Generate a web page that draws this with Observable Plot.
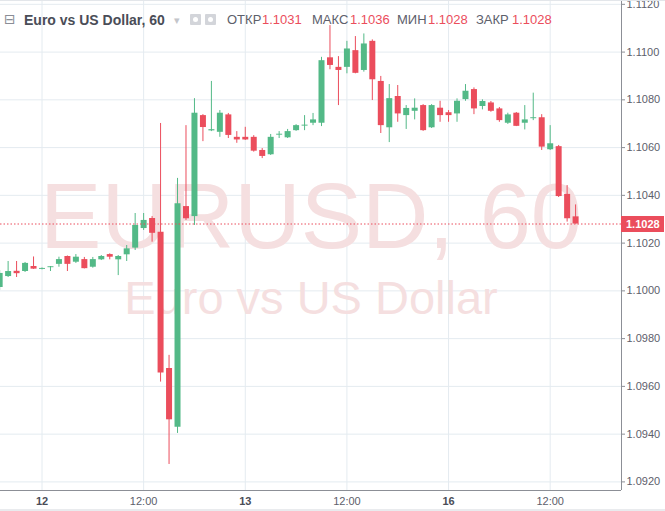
<!DOCTYPE html>
<html>
<head>
<meta charset="utf-8">
<script src="https://cdn.jsdelivr.net/npm/d3@7"></script>
<script src="https://cdn.jsdelivr.net/npm/@observablehq/plot@0.6"></script>
<style>
  html, body { margin: 0; padding: 0; background: #fff; }
  #wrap { position: relative; width: 665px; height: 511px; overflow: hidden; font-family: "Liberation Sans", Arial, sans-serif; }
  #header { position: absolute; left: 0; top: 0; width: 620px; height: 36px; pointer-events: none; }
  #header span { position: absolute; top: 12px; white-space: nowrap; font-size: 13px; line-height: 16px; }
  .lbl { color: #5d606b; }
  .val { color: #eb4d5c; }
  .title { color: #4a4d57; font-weight: bold; font-size: 14px !important; }
  .ico { position: absolute; top: 14px; width: 11px; height: 11px; background: #d3d5da; border-radius: 1px; }
  .ico i { position: absolute; left: 3px; top: 3px; width: 5px; height: 5px; border-radius: 50%; background: #fff; }
  #pricebox { position: absolute; left: 621px; width: 43px; height: 16px; background: #eb4d5c; color: #fff; font-weight: bold; font-size: 11px; line-height: 16px; text-indent: 5px; }
  #edge { position: absolute; left: 0; top: 0; width: 665px; height: 511px; box-sizing: border-box; border-top: 1px solid #e3e6ea; border-bottom: 2px solid #e9ebee; pointer-events: none; }
</style>
</head>
<body>
<div id="wrap">
  <div id="chart"></div>
  <div id="header">
    <span class="lbl" style="left:4px;top:11px;font-family:'DejaVu Sans';font-size:14px;color:#8a8d96;">⊟</span>
    <span class="title" style="left:24px;">Euro vs US Dollar, 60</span>
    <span class="lbl" style="left:174px;color:#c3c5ca;font-size:11px;">▾</span>
    <div class="ico" style="left:190px;"><i></i></div>
    <div class="ico" style="left:205px;"><i></i></div>
    <span class="lbl" style="left:227px;">ОТКР</span>
    <span class="val" style="left:262px;">1.1031</span>
    <span class="lbl" style="left:312px;">МАКС</span>
    <span class="val" style="left:350px;">1.1036</span>
    <span class="lbl" style="left:397px;">МИН</span>
    <span class="val" style="left:428px;">1.1028</span>
    <span class="lbl" style="left:476px;">ЗАКР</span>
    <span class="val" style="left:512px;">1.1028</span>
  </div>
  <div id="pricebox"></div>
  <div id="edge"></div>
</div>
<script>
// Hour index (0 = 12th 00:00; weekend skipped so 48 = 16th 00:00)
const hours = [-5,-4,-3,-2,-1,0,1,2,3,4,5,6,7,8,9,10,11,12,13,14,15,16,17,18,19,20,21,22,23,24,25,26,27,28,29,30,31,32,33,34,35,36,37,38,39,40,41,42,43,44,45,46,47,48,49,50,51,52,53,54,55,56,57,58,59,60,61,62,63];
const opens = [1.10014,1.10060,1.10082,1.10081,1.10102,1.10090,1.10097,1.10111,1.10144,1.10120,1.10131,1.10099,1.10130,1.10152,1.10130,1.10151,1.10179,1.10261,1.10303,1.10246,1.09675,1.09429,1.10353,1.10311,1.10734,1.10670,1.10664,1.10737,1.10643,1.10643,1.10643,1.10588,1.10570,1.10652,1.10641,1.10671,1.10690,1.10702,1.10702,1.10976,1.10936,1.10936,1.11006,1.10923,1.11045,1.10877,1.10683,1.10814,1.10734,1.10752,1.10776,1.10683,1.10765,1.10746,1.10741,1.10801,1.10843,1.10772,1.10787,1.10762,1.10702,1.10744,1.10702,1.10721,1.10725,1.10591,1.10604,1.10404,1.10310];
const highs = [1.10085,1.10123,1.10123,1.10119,1.10142,1.10096,1.10102,1.10141,1.10146,1.10152,1.10140,1.10140,1.10148,1.10155,1.10148,1.10190,1.10324,1.10324,1.10311,1.10701,1.09730,1.10471,1.10692,1.10805,1.10738,1.10877,1.10755,1.10743,1.10667,1.10685,1.10650,1.10596,1.10655,1.10667,1.10676,1.10696,1.10734,1.10743,1.10978,1.11111,1.10981,1.11045,1.11065,1.11076,1.11051,1.10898,1.10864,1.10860,1.10776,1.10804,1.10780,1.10780,1.10794,1.10755,1.10804,1.10864,1.10850,1.10800,1.10793,1.10768,1.10744,1.10747,1.10776,1.10828,1.10738,1.10692,1.10609,1.10441,1.10360];
const lows = [1.10002,1.10056,1.10056,1.10077,1.10090,1.10088,1.10081,1.10099,1.10081,1.10115,1.10092,1.10095,1.10127,1.10130,1.10064,1.10123,1.10169,1.10253,1.10204,1.09618,1.09273,1.09403,1.10295,1.10274,1.10625,1.10667,1.10643,1.10638,1.10618,1.10630,1.10581,1.10554,1.10567,1.10638,1.10638,1.10668,1.10671,1.10692,1.10688,1.10926,1.10776,1.10909,1.10909,1.10916,1.10797,1.10659,1.10621,1.10706,1.10676,1.10716,1.10668,1.10680,1.10706,1.10706,1.10706,1.10794,1.10738,1.10758,1.10748,1.10706,1.10697,1.10688,1.10674,1.10713,1.10588,1.10588,1.10391,1.10288,1.10280];
const closes = [1.10073,1.10081,1.10072,1.10115,1.10091,1.10094,1.10101,1.10131,1.10111,1.10141,1.10093,1.10131,1.10144,1.10141,1.10144,1.10176,1.10274,1.10295,1.10241,1.09656,1.09460,1.10365,1.10302,1.10744,1.10684,1.10675,1.10744,1.10651,1.10632,1.10632,1.10585,1.10563,1.10643,1.10656,1.10667,1.10692,1.10694,1.10716,1.10964,1.10944,1.10923,1.11013,1.10911,1.11034,1.10884,1.10692,1.10805,1.10741,1.10764,1.10765,1.10671,1.10776,1.10734,1.10734,1.10794,1.10836,1.10762,1.10793,1.10752,1.10713,1.10737,1.10689,1.10716,1.10725,1.10602,1.10616,1.10395,1.10302,1.10280];

const xTickValues = [0, 12, 24, 36, 48, 60];
const xTickLabels = ["12", "12:00", "13", "12:00", "16", "12:00"];
const yTickValues = [1.092, 1.094, 1.096, 1.098, 1.100, 1.102, 1.104, 1.106, 1.108, 1.110, 1.112];
const xDomain = [-4.9, 68.42];
const yDomain = [1.09164, 1.11216];

const GREEN = "#53b987";
const RED = "#eb4d5c";
const GRID = "#e4ebf0";
const AXIS = "#8c8f96";

const idx = d3.range(hours.length);
const up = idx.filter(i => closes[i] >= opens[i]);
const down = idx.filter(i => closes[i] < opens[i]);
const lastClose = closes[closes.length - 1];
const labelOf = v => xTickLabels[xTickValues.indexOf(v)];

const candle = (sel, color) => [
  Plot.ruleX(sel, {x: i => hours[i], y1: i => lows[i], y2: i => highs[i], stroke: color, strokeWidth: 1, clip: true}),
  Plot.ruleX(sel, {x: i => hours[i], y1: i => opens[i], y2: i => closes[i], stroke: color, strokeWidth: 6, clip: true})
];

const chart = Plot.plot({
  width: 665,
  height: 511,
  marginLeft: 0,
  marginRight: 44,
  marginTop: 0,
  marginBottom: 21,
  style: {fontFamily: "'Liberation Sans', Arial, sans-serif", fontSize: "11px", color: "#5d606b", background: "transparent"},
  x: {type: "linear", domain: xDomain},
  y: {domain: yDomain},
  marks: [
    Plot.gridX(xTickValues, {stroke: GRID, strokeOpacity: 1}),
    Plot.gridY(yTickValues, {stroke: GRID, strokeOpacity: 1}),
    Plot.text(["EURUSD, 60"], {frameAnchor: "middle", lineAnchor: "bottom", dy: 2, fontSize: 92, fill: "#f5dfe0", fontFamily: "'Liberation Sans', Arial, sans-serif"}),
    Plot.text(["Euro vs US Dollar"], {frameAnchor: "middle", lineAnchor: "bottom", dy: 68, fontSize: 47, fill: "#f5dfe0", fontFamily: "'Liberation Sans', Arial, sans-serif"}),
    ...candle(up, GREEN),
    ...candle(down, RED),
    Plot.ruleY([lastClose], {stroke: RED, strokeDasharray: "1.5,2", strokeWidth: 1}),
    Plot.ruleX([xDomain[1]], {stroke: AXIS}),
    Plot.ruleY([yDomain[0]], {stroke: AXIS}),
    Plot.axisY(yTickValues, {anchor: "right", tickSize: 3, tickPadding: 2, tickFormat: d3.format(".4f"), stroke: AXIS, fill: "#5d606b"}),
    Plot.axisX([0, 24, 48], {anchor: "bottom", tickSize: 0, tickPadding: 7, tickFormat: labelOf, fontWeight: "bold", fill: "#4a4d57"}),
    Plot.axisX([12, 36, 60], {anchor: "bottom", tickSize: 0, tickPadding: 7, tickFormat: labelOf, fill: "#5d606b"})
  ]
});
document.getElementById("chart").appendChild(chart);
const yPix = chart.scale("y").apply(lastClose);
const box = document.getElementById("pricebox");
box.style.top = (yPix - 8) + "px";
box.textContent = d3.format(".4f")(lastClose);
</script>
</body>
</html>
